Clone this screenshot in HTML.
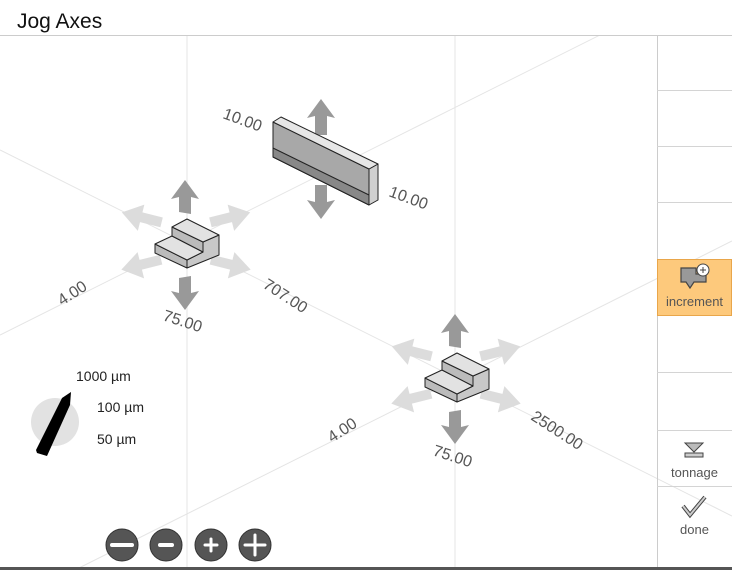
<!DOCTYPE html>
<html><head><meta charset="utf-8"><style>
body{margin:0;background:#fff;width:732px;height:570px;overflow:hidden;font-family:"Liberation Sans","DejaVu Sans",sans-serif}
svg{display:block}
text{font-family:"Liberation Sans","DejaVu Sans",sans-serif}
</style></head><body>
<svg width="732" height="570" viewBox="0 0 732 570">
<defs>
<g id="piece">
  <polygon points="121,217 141,204 141,212 162,212 162,222 141,222 141,231" fill="#dcdcdc" transform="rotate(14 140 218)"/>
  <polygon points="251,217 231,204 231,212 210,212 210,222 231,222 231,231" fill="#dcdcdc" transform="rotate(-14 232 218)"/>
  <polygon points="121,265 141,252 141,260 162,260 162,270 141,270 141,279" fill="#dcdcdc" transform="rotate(-14 140 266)"/>
  <polygon points="251,265 231,252 231,260 210,260 210,270 231,270 231,279" fill="#dcdcdc" transform="rotate(14 232 266)"/>
  <polygon points="185,180 199,199 191,197 191,214 179,212 179,197 171,199" fill="#999"/>
  <polygon points="185,310 199,291 191,293 191,276 179,278 179,293 171,291" fill="#999"/>
  <g stroke="#222" stroke-width="1" stroke-linejoin="round">
    <polygon points="155,244 187,260 187,268 155,253" fill="#bbb"/>
    <polygon points="187,260 203,252 203,242 219,235 219,255 187,268" fill="#c8c8c8"/>
    <polygon points="155,244 172,236 203,252 187,260" fill="#e2e2e2"/>
    <polygon points="172,227 203,242 203,252 172,236" fill="#bbb"/>
    <polygon points="172,227 187,219 219,235 203,242" fill="#e2e2e2"/>
  </g>
</g>
</defs>
<g stroke="#e4e4e4" stroke-width="1">
  <line x1="187" y1="35" x2="187" y2="568"/>
  <line x1="455" y1="35" x2="455" y2="568"/>
  <line x1="0" y1="150" x2="732" y2="516"/>
  <line x1="0" y1="335" x2="670" y2="0"/>
  <line x1="75" y1="570" x2="732" y2="241"/>
</g>
<g>
  <rect x="0" y="0" width="732" height="35" fill="#fff"/>
  <line x1="0" y1="35.5" x2="732" y2="35.5" stroke="#ccc"/>
  <text x="17" y="28" font-size="21" fill="#111">Jog Axes</text>
</g>
<g><use href="#piece"/></g>
<g><use href="#piece" transform="translate(270,134)"/></g>
<g>
  <polygon points="321,99 335,118 327,116 327,135 315,135 315,116 307,118" fill="#999"/>
  <polygon points="321,219 335,200 327,202 327,185 315,185 315,202 307,200" fill="#999"/>
  <g stroke="#222" stroke-width="1" stroke-linejoin="round">
    <polygon points="273,122 369,169 369,205 273,157" fill="#a8a8a8"/>
    <polygon points="273,148 369,195 369,205 273,157" fill="#888"/>
    <polygon points="369,169 378,164 378,200 369,205" fill="#d0d0d0"/>
    <polygon points="273,122 281,117 378,164 369,169" fill="#e6e6e6"/>
  </g>
</g>
<g font-size="16" fill="#555">
  <text transform="translate(222,118) rotate(20)">10.00</text>
  <text transform="translate(388,196) rotate(20)">10.00</text>
  <text transform="translate(262,287) rotate(33)">707.00</text>
  <text transform="translate(162,320) rotate(18)">75.00</text>
  <text transform="translate(62,306) rotate(-33)">4.00</text>
  <text transform="translate(332,443) rotate(-33)">4.00</text>
  <text transform="translate(432,455) rotate(18)">75.00</text>
  <text transform="translate(530,419) rotate(33)">2500.00</text>
</g>
<g>
  <circle cx="55" cy="422" r="24" fill="#e2e2e2"/>
  <polygon points="37,453 47,456 70,405 71,392 62,398 36,450" fill="#000"/>
  <text x="76" y="381" font-size="14" fill="#222">1000 µm</text>
  <text x="97" y="412" font-size="14" fill="#222">100 µm</text>
  <text x="97" y="444" font-size="14" fill="#222">50 µm</text>
</g>
<g stroke="#fff" stroke-linecap="round">
  <circle cx="122" cy="545" r="16" fill="#555" stroke="#333"/><line x1="112" y1="545" x2="132" y2="545" stroke-width="4"/>
  <circle cx="166" cy="545" r="16" fill="#555" stroke="#333"/><line x1="160" y1="545" x2="172" y2="545" stroke-width="4"/>
  <circle cx="211" cy="545" r="16" fill="#555" stroke="#333"/><line x1="205" y1="545" x2="217" y2="545" stroke-width="3"/><line x1="211" y1="539" x2="211" y2="551" stroke-width="3"/>
  <circle cx="255" cy="545" r="16" fill="#555" stroke="#333"/><line x1="245" y1="545" x2="265" y2="545" stroke-width="3"/><line x1="255" y1="535" x2="255" y2="555" stroke-width="3"/>
</g>
<g>
  <line x1="657.5" y1="35" x2="657.5" y2="568" stroke="#ccc"/>
  <g stroke="#d4d4d4"><line x1="657" y1="90.5" x2="732" y2="90.5"/><line x1="657" y1="146.5" x2="732" y2="146.5"/><line x1="657" y1="202.5" x2="732" y2="202.5"/><line x1="657" y1="372.5" x2="732" y2="372.5"/><line x1="657" y1="430.5" x2="732" y2="430.5"/><line x1="657" y1="486.5" x2="732" y2="486.5"/></g>
  <g>
    <rect x="657.5" y="259.5" width="74" height="56" fill="#fdc97c" stroke="#e9a64a"/>
    <polygon points="681,268 696,268 696,274 706,274 706,282 694,282 690,288 686,282 681,282" fill="#999" stroke="#444" stroke-width="1.2"/>
    <circle cx="703" cy="270" r="6" fill="#fff" stroke="#444"/><line x1="700" y1="270" x2="706" y2="270" stroke="#444"/><line x1="703" y1="267" x2="703" y2="273" stroke="#444"/>
    <text x="694.5" y="306" font-size="13" fill="#555" text-anchor="middle">increment</text>
  </g>
  <g>
    <polygon points="685,443 703,443 694,452" fill="#bbb" stroke="#444"/>
    <rect x="685" y="453" width="18" height="4" fill="#ccc" stroke="#444"/>
    <text x="694.5" y="477" font-size="13" fill="#555" text-anchor="middle">tonnage</text>
  </g>
  <g>
    <polyline points="683,506 690,515 705,497" fill="none" stroke="#444" stroke-width="4"/>
    <polyline points="683,506 690,515 705,497" fill="none" stroke="#ccc" stroke-width="2"/>
    <text x="694.5" y="534" font-size="13" fill="#555" text-anchor="middle">done</text>
  </g>
</g>
<rect x="0" y="567" width="732" height="3" fill="#555"/>
</svg>
</body></html>
